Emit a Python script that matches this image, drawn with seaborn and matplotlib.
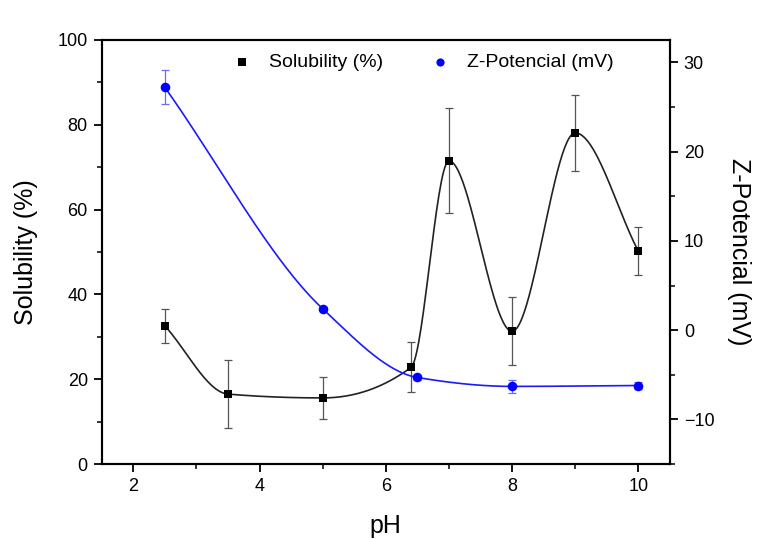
import matplotlib
matplotlib.use("Agg")
import matplotlib.pyplot as plt
import numpy as np
import pandas as pd
import seaborn as sns
from matplotlib.ticker import MultipleLocator

# data
ph_sol = [2.5, 3.5, 5.0, 6.4, 7.0, 8.0, 9.0, 10.0]
solubility = [32.6, 16.5, 15.6, 22.8, 71.5, 31.3, 78.1, 50.2]
solubility_err = [4.0, 8.1, 5.0, 5.9, 12.4, 8.0, 9.0, 5.7]

ph_zeta = [2.5, 5.0, 6.5, 8.0, 10.0]
zeta = [27.2, 2.4, -5.3, -6.3, -6.2]
zeta_err = [1.9, 0.2, 0.3, 0.7, 0.35]


def pchip(x, y, xs):
    """monotone cubic through the points (smooth connecting line)"""
    x = np.asarray(x, float)
    y = np.asarray(y, float)
    h = np.diff(x)
    d = np.diff(y) / h
    m = np.zeros_like(y)
    for k in range(1, len(x) - 1):
        if d[k - 1] * d[k] > 0:
            w1 = 2 * h[k] + h[k - 1]
            w2 = h[k] + 2 * h[k - 1]
            m[k] = (w1 + w2) / (w1 / d[k - 1] + w2 / d[k])
    # secant slope at the ends
    m[0] = d[0]
    m[-1] = d[-1]

    idx = np.clip(np.searchsorted(x, xs) - 1, 0, len(x) - 2)
    t = (xs - x[idx]) / h[idx]
    h00 = 2 * t**3 - 3 * t**2 + 1
    h10 = t**3 - 2 * t**2 + t
    h01 = -2 * t**3 + 3 * t**2
    h11 = t**3 - t**2
    return h00 * y[idx] + h10 * h[idx] * m[idx] + h01 * y[idx + 1] + h11 * h[idx] * m[idx + 1]


sns.set_theme(style="ticks")
plt.rcParams["font.family"] = ["Liberation Sans", "DejaVu Sans"]
plt.rcParams["axes.labelcolor"] = "black"
plt.rcParams["text.color"] = "black"

fig = plt.figure(figsize=(7.57, 5.39), dpi=100)
ax = fig.add_axes([0.1343, 0.139, 0.7507, 0.7868])
ax2 = ax.twinx()

# smooth lines
xs_sol = np.linspace(ph_sol[0], ph_sol[-1], 400)
curve_sol = pd.DataFrame({"pH": xs_sol, "sol": pchip(ph_sol, solubility, xs_sol)})
xs_z = np.linspace(ph_zeta[0], ph_zeta[-1], 400)
curve_z = pd.DataFrame({"pH": xs_z, "z": pchip(ph_zeta, zeta, xs_z)})

sns.lineplot(data=curve_sol, x="pH", y="sol", ax=ax, color="#222222", lw=1.2, zorder=2)
ax.errorbar(ph_sol, solubility, yerr=solubility_err, fmt="none", ecolor="#555555",
            elinewidth=0.9, capsize=3, capthick=0.9, zorder=3)
sns.scatterplot(x=ph_sol, y=solubility, ax=ax, marker="s", s=40, color="black",
                edgecolor="black", linewidth=0, zorder=4, label="Solubility (%)", legend=False)

sns.lineplot(data=curve_z, x="pH", y="z", ax=ax2, color="#1a1aff", lw=1.2, zorder=2)
ax2.errorbar(ph_zeta, zeta, yerr=zeta_err, fmt="none", ecolor="#6b6bff",
             elinewidth=0.9, capsize=3, capthick=0.9, zorder=3)
sns.scatterplot(x=ph_zeta, y=zeta, ax=ax2, marker="o", s=48, color="#0000ff",
                edgecolor="#0000ff", linewidth=0, zorder=4, label="Z-Potencial (mV)", legend=False)

ax.set_xlim(1.5, 10.5)
ax.set_ylim(0, 100)
ax2.set_ylim(-15, 32.5)

ax.xaxis.set_major_locator(MultipleLocator(2))
ax.xaxis.set_minor_locator(MultipleLocator(1))
ax.yaxis.set_major_locator(MultipleLocator(20))
ax.yaxis.set_minor_locator(MultipleLocator(10))
ax2.yaxis.set_major_locator(MultipleLocator(10))
ax2.yaxis.set_minor_locator(MultipleLocator(5))

for a in (ax, ax2):
    for sp in a.spines.values():
        sp.set_visible(True)
        sp.set_color("black")
        sp.set_linewidth(1.5)
    a.tick_params(which="major", direction="out", length=6, width=1.3, labelsize=13,
                  colors="black", pad=4)
    a.tick_params(which="minor", direction="out", length=3.5, width=1.1, colors="black")
ax.tick_params(axis="x", which="both", top=False)
ax.tick_params(axis="y", which="both", right=False)

ax.set_xlabel("pH", fontsize=18, labelpad=14)
ax.set_ylabel("Solubility (%)", fontsize=18, labelpad=14)
ax2.set_ylabel("Z-Potencial (mV)", fontsize=18, rotation=270, labelpad=26)

h1, l1 = ax.get_legend_handles_labels()
h2, l2 = ax2.get_legend_handles_labels()
leg = ax2.legend(h1[-1:] + h2[-1:], l1[-1:] + l2[-1:], loc="upper center",
                 bbox_to_anchor=(0.565, 1.0), ncol=2, frameon=False, fontsize=14,
                 handlelength=1.0, handletextpad=0.9, columnspacing=2.4,
                 markerscale=0.85, borderaxespad=0.3)

fig.savefig("out.png", dpi=100)
